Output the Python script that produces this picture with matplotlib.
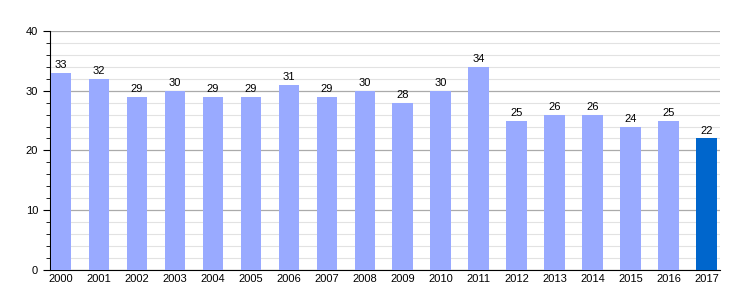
import matplotlib
matplotlib.use("Agg")
import matplotlib.pyplot as plt
from matplotlib.ticker import MultipleLocator

plt.rcParams["font.family"] = ["Liberation Sans", "DejaVu Sans"]

years = [str(y) for y in range(2000, 2018)]
values = [33, 32, 29, 30, 29, 29, 31, 29, 30, 28, 30, 34, 25, 26, 26, 24, 25, 22]

LIGHT = "#99aaff"
DARK = "#0066cc"
colors = [LIGHT] * (len(values) - 1) + [DARK]

fig = plt.figure(figsize=(7.5, 3), dpi=100)
ax = fig.add_axes([0.0667, 0.1, 0.893, 0.797])

x = list(range(len(values)))
ax.bar(x, values, width=0.55, color=colors, zorder=3)
for xi, v in zip(x, values):
    ax.text(xi, v + 0.4, str(v), ha="center", va="bottom", fontsize=8, zorder=4)

ax.set_ylim(0, 40)
ax.set_xlim(-0.29, len(values) - 1 + 0.34)
ax.yaxis.set_major_locator(MultipleLocator(10))
ax.yaxis.set_minor_locator(MultipleLocator(2))
ax.grid(axis="y", which="major", color="#aaaaaa", linewidth=0.9, zorder=1)
ax.grid(axis="y", which="minor", color="#e2e2e2", linewidth=0.8, zorder=0)
ax.set_xticks(x)
ax.set_xticklabels(years)
ax.tick_params(axis="x", length=0, labelsize=8, pad=3)
ax.tick_params(axis="y", which="major", length=5, labelsize=8)
ax.tick_params(axis="y", which="minor", length=3)

for side in ("top", "right"):
    ax.spines[side].set_visible(False)
ax.spines["left"].set_color("black")
ax.spines["bottom"].set_color("black")

fig.savefig("out.png", dpi=100)
